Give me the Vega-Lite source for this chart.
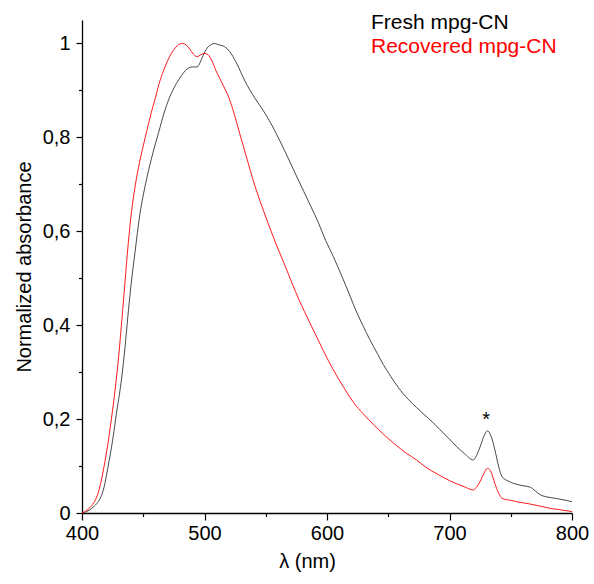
{
  "$schema": "https://vega.github.io/schema/vega-lite/v6.json",
  "autosize": "none",
  "width": 490,
  "height": 493,
  "padding": {"left": 82, "top": 20, "right": 22, "bottom": 71},
  "background": "white",
  "config": {
    "view": {"stroke": null},
    "font": "Liberation Sans",
    "axis": {"grid": false, "domainColor": "black", "tickColor": "black", "labelColor": "black", "titleColor": "black", "labelFont": "Liberation Sans", "titleFont": "Liberation Sans", "titleFontWeight": "normal", "domainWidth": 1.3, "tickWidth": 1.2}
  },
  "datasets": {
    "spectra": [
      {"wl": 400, "a": 0, "s": "Fresh mpg-CN"},
      {"wl": 404, "a": 0.003, "s": "Fresh mpg-CN"},
      {"wl": 408, "a": 0.01, "s": "Fresh mpg-CN"},
      {"wl": 412, "a": 0.02, "s": "Fresh mpg-CN"},
      {"wl": 415, "a": 0.032, "s": "Fresh mpg-CN"},
      {"wl": 418, "a": 0.055, "s": "Fresh mpg-CN"},
      {"wl": 421, "a": 0.095, "s": "Fresh mpg-CN"},
      {"wl": 425, "a": 0.155, "s": "Fresh mpg-CN"},
      {"wl": 428, "a": 0.21, "s": "Fresh mpg-CN"},
      {"wl": 432, "a": 0.28, "s": "Fresh mpg-CN"},
      {"wl": 435, "a": 0.35, "s": "Fresh mpg-CN"},
      {"wl": 437.3, "a": 0.415, "s": "Fresh mpg-CN"},
      {"wl": 440, "a": 0.485, "s": "Fresh mpg-CN"},
      {"wl": 443.5, "a": 0.56, "s": "Fresh mpg-CN"},
      {"wl": 447, "a": 0.632, "s": "Fresh mpg-CN"},
      {"wl": 451, "a": 0.69, "s": "Fresh mpg-CN"},
      {"wl": 455, "a": 0.737, "s": "Fresh mpg-CN"},
      {"wl": 458, "a": 0.768, "s": "Fresh mpg-CN"},
      {"wl": 462.5, "a": 0.81, "s": "Fresh mpg-CN"},
      {"wl": 467, "a": 0.852, "s": "Fresh mpg-CN"},
      {"wl": 471, "a": 0.882, "s": "Fresh mpg-CN"},
      {"wl": 475, "a": 0.905, "s": "Fresh mpg-CN"},
      {"wl": 479, "a": 0.923, "s": "Fresh mpg-CN"},
      {"wl": 483, "a": 0.938, "s": "Fresh mpg-CN"},
      {"wl": 486, "a": 0.946, "s": "Fresh mpg-CN"},
      {"wl": 490, "a": 0.95, "s": "Fresh mpg-CN"},
      {"wl": 494, "a": 0.95, "s": "Fresh mpg-CN"},
      {"wl": 496.5, "a": 0.96, "s": "Fresh mpg-CN"},
      {"wl": 499, "a": 0.975, "s": "Fresh mpg-CN"},
      {"wl": 502, "a": 0.99, "s": "Fresh mpg-CN"},
      {"wl": 505, "a": 0.997, "s": "Fresh mpg-CN"},
      {"wl": 508, "a": 1.0, "s": "Fresh mpg-CN"},
      {"wl": 512, "a": 0.997, "s": "Fresh mpg-CN"},
      {"wl": 516.5, "a": 0.993, "s": "Fresh mpg-CN"},
      {"wl": 520.5, "a": 0.983, "s": "Fresh mpg-CN"},
      {"wl": 526, "a": 0.959, "s": "Fresh mpg-CN"},
      {"wl": 533, "a": 0.92, "s": "Fresh mpg-CN"},
      {"wl": 541, "a": 0.884, "s": "Fresh mpg-CN"},
      {"wl": 546.5, "a": 0.863, "s": "Fresh mpg-CN"},
      {"wl": 555, "a": 0.826, "s": "Fresh mpg-CN"},
      {"wl": 562, "a": 0.79, "s": "Fresh mpg-CN"},
      {"wl": 569, "a": 0.752, "s": "Fresh mpg-CN"},
      {"wl": 575, "a": 0.718, "s": "Fresh mpg-CN"},
      {"wl": 581, "a": 0.685, "s": "Fresh mpg-CN"},
      {"wl": 587, "a": 0.652, "s": "Fresh mpg-CN"},
      {"wl": 593, "a": 0.618, "s": "Fresh mpg-CN"},
      {"wl": 599, "a": 0.58, "s": "Fresh mpg-CN"},
      {"wl": 605, "a": 0.547, "s": "Fresh mpg-CN"},
      {"wl": 612, "a": 0.505, "s": "Fresh mpg-CN"},
      {"wl": 619, "a": 0.461, "s": "Fresh mpg-CN"},
      {"wl": 623, "a": 0.435, "s": "Fresh mpg-CN"},
      {"wl": 629, "a": 0.401, "s": "Fresh mpg-CN"},
      {"wl": 635, "a": 0.369, "s": "Fresh mpg-CN"},
      {"wl": 641, "a": 0.34, "s": "Fresh mpg-CN"},
      {"wl": 646, "a": 0.316, "s": "Fresh mpg-CN"},
      {"wl": 652, "a": 0.291, "s": "Fresh mpg-CN"},
      {"wl": 658, "a": 0.268, "s": "Fresh mpg-CN"},
      {"wl": 666, "a": 0.243, "s": "Fresh mpg-CN"},
      {"wl": 673, "a": 0.225, "s": "Fresh mpg-CN"},
      {"wl": 680, "a": 0.208, "s": "Fresh mpg-CN"},
      {"wl": 686, "a": 0.194, "s": "Fresh mpg-CN"},
      {"wl": 692, "a": 0.178, "s": "Fresh mpg-CN"},
      {"wl": 699, "a": 0.16, "s": "Fresh mpg-CN"},
      {"wl": 706, "a": 0.141, "s": "Fresh mpg-CN"},
      {"wl": 712, "a": 0.127, "s": "Fresh mpg-CN"},
      {"wl": 719.5, "a": 0.113, "s": "Fresh mpg-CN"},
      {"wl": 722, "a": 0.122, "s": "Fresh mpg-CN"},
      {"wl": 725, "a": 0.141, "s": "Fresh mpg-CN"},
      {"wl": 728, "a": 0.163, "s": "Fresh mpg-CN"},
      {"wl": 731, "a": 0.175, "s": "Fresh mpg-CN"},
      {"wl": 734, "a": 0.163, "s": "Fresh mpg-CN"},
      {"wl": 737, "a": 0.135, "s": "Fresh mpg-CN"},
      {"wl": 740, "a": 0.1, "s": "Fresh mpg-CN"},
      {"wl": 743, "a": 0.077, "s": "Fresh mpg-CN"},
      {"wl": 748, "a": 0.068, "s": "Fresh mpg-CN"},
      {"wl": 755, "a": 0.061, "s": "Fresh mpg-CN"},
      {"wl": 760, "a": 0.058, "s": "Fresh mpg-CN"},
      {"wl": 766, "a": 0.055, "s": "Fresh mpg-CN"},
      {"wl": 770, "a": 0.047, "s": "Fresh mpg-CN"},
      {"wl": 774, "a": 0.039, "s": "Fresh mpg-CN"},
      {"wl": 780, "a": 0.034, "s": "Fresh mpg-CN"},
      {"wl": 787, "a": 0.031, "s": "Fresh mpg-CN"},
      {"wl": 795, "a": 0.027, "s": "Fresh mpg-CN"},
      {"wl": 800, "a": 0.024, "s": "Fresh mpg-CN"},
      {"wl": 400, "a": 0, "s": "Recovered mpg-CN"},
      {"wl": 404, "a": 0.006, "s": "Recovered mpg-CN"},
      {"wl": 408, "a": 0.016, "s": "Recovered mpg-CN"},
      {"wl": 411, "a": 0.028, "s": "Recovered mpg-CN"},
      {"wl": 414, "a": 0.05, "s": "Recovered mpg-CN"},
      {"wl": 418, "a": 0.099, "s": "Recovered mpg-CN"},
      {"wl": 421, "a": 0.145, "s": "Recovered mpg-CN"},
      {"wl": 424, "a": 0.2, "s": "Recovered mpg-CN"},
      {"wl": 427, "a": 0.262, "s": "Recovered mpg-CN"},
      {"wl": 430, "a": 0.335, "s": "Recovered mpg-CN"},
      {"wl": 432, "a": 0.395, "s": "Recovered mpg-CN"},
      {"wl": 434.5, "a": 0.472, "s": "Recovered mpg-CN"},
      {"wl": 437, "a": 0.552, "s": "Recovered mpg-CN"},
      {"wl": 440, "a": 0.632, "s": "Recovered mpg-CN"},
      {"wl": 443.5, "a": 0.698, "s": "Recovered mpg-CN"},
      {"wl": 447, "a": 0.747, "s": "Recovered mpg-CN"},
      {"wl": 450, "a": 0.782, "s": "Recovered mpg-CN"},
      {"wl": 453, "a": 0.815, "s": "Recovered mpg-CN"},
      {"wl": 456.5, "a": 0.852, "s": "Recovered mpg-CN"},
      {"wl": 460, "a": 0.885, "s": "Recovered mpg-CN"},
      {"wl": 463, "a": 0.915, "s": "Recovered mpg-CN"},
      {"wl": 466.7, "a": 0.943, "s": "Recovered mpg-CN"},
      {"wl": 470, "a": 0.964, "s": "Recovered mpg-CN"},
      {"wl": 473, "a": 0.979, "s": "Recovered mpg-CN"},
      {"wl": 476, "a": 0.99, "s": "Recovered mpg-CN"},
      {"wl": 479, "a": 0.998, "s": "Recovered mpg-CN"},
      {"wl": 482, "a": 1.0, "s": "Recovered mpg-CN"},
      {"wl": 485, "a": 0.997, "s": "Recovered mpg-CN"},
      {"wl": 488, "a": 0.988, "s": "Recovered mpg-CN"},
      {"wl": 491, "a": 0.977, "s": "Recovered mpg-CN"},
      {"wl": 494, "a": 0.972, "s": "Recovered mpg-CN"},
      {"wl": 497, "a": 0.976, "s": "Recovered mpg-CN"},
      {"wl": 500, "a": 0.979, "s": "Recovered mpg-CN"},
      {"wl": 503, "a": 0.976, "s": "Recovered mpg-CN"},
      {"wl": 506, "a": 0.963, "s": "Recovered mpg-CN"},
      {"wl": 509.4, "a": 0.942, "s": "Recovered mpg-CN"},
      {"wl": 515.4, "a": 0.91, "s": "Recovered mpg-CN"},
      {"wl": 520.3, "a": 0.882, "s": "Recovered mpg-CN"},
      {"wl": 524, "a": 0.852, "s": "Recovered mpg-CN"},
      {"wl": 529, "a": 0.806, "s": "Recovered mpg-CN"},
      {"wl": 533.5, "a": 0.765, "s": "Recovered mpg-CN"},
      {"wl": 541, "a": 0.698, "s": "Recovered mpg-CN"},
      {"wl": 548, "a": 0.645, "s": "Recovered mpg-CN"},
      {"wl": 556, "a": 0.589, "s": "Recovered mpg-CN"},
      {"wl": 566, "a": 0.525, "s": "Recovered mpg-CN"},
      {"wl": 577, "a": 0.455, "s": "Recovered mpg-CN"},
      {"wl": 586, "a": 0.405, "s": "Recovered mpg-CN"},
      {"wl": 594, "a": 0.362, "s": "Recovered mpg-CN"},
      {"wl": 601, "a": 0.325, "s": "Recovered mpg-CN"},
      {"wl": 608, "a": 0.292, "s": "Recovered mpg-CN"},
      {"wl": 615, "a": 0.262, "s": "Recovered mpg-CN"},
      {"wl": 621.5, "a": 0.236, "s": "Recovered mpg-CN"},
      {"wl": 630, "a": 0.21, "s": "Recovered mpg-CN"},
      {"wl": 638, "a": 0.188, "s": "Recovered mpg-CN"},
      {"wl": 646, "a": 0.168, "s": "Recovered mpg-CN"},
      {"wl": 657, "a": 0.143, "s": "Recovered mpg-CN"},
      {"wl": 665, "a": 0.127, "s": "Recovered mpg-CN"},
      {"wl": 673, "a": 0.113, "s": "Recovered mpg-CN"},
      {"wl": 681, "a": 0.097, "s": "Recovered mpg-CN"},
      {"wl": 690, "a": 0.083, "s": "Recovered mpg-CN"},
      {"wl": 700, "a": 0.069, "s": "Recovered mpg-CN"},
      {"wl": 706, "a": 0.062, "s": "Recovered mpg-CN"},
      {"wl": 712, "a": 0.056, "s": "Recovered mpg-CN"},
      {"wl": 719.5, "a": 0.049, "s": "Recovered mpg-CN"},
      {"wl": 722, "a": 0.055, "s": "Recovered mpg-CN"},
      {"wl": 725, "a": 0.067, "s": "Recovered mpg-CN"},
      {"wl": 728, "a": 0.084, "s": "Recovered mpg-CN"},
      {"wl": 731, "a": 0.095, "s": "Recovered mpg-CN"},
      {"wl": 734, "a": 0.087, "s": "Recovered mpg-CN"},
      {"wl": 737, "a": 0.063, "s": "Recovered mpg-CN"},
      {"wl": 740, "a": 0.043, "s": "Recovered mpg-CN"},
      {"wl": 743, "a": 0.031, "s": "Recovered mpg-CN"},
      {"wl": 750, "a": 0.027, "s": "Recovered mpg-CN"},
      {"wl": 755, "a": 0.024, "s": "Recovered mpg-CN"},
      {"wl": 766, "a": 0.019, "s": "Recovered mpg-CN"},
      {"wl": 775, "a": 0.014, "s": "Recovered mpg-CN"},
      {"wl": 782, "a": 0.01, "s": "Recovered mpg-CN"},
      {"wl": 790, "a": 0.007, "s": "Recovered mpg-CN"},
      {"wl": 800, "a": 0.003, "s": "Recovered mpg-CN"}
    ],
    "marks": [
      {"wl": 730, "a": 0.185, "t": "*"}
    ]
  },
  "layer": [
    {
      "data": {"name": "spectra"},
      "mark": {"type": "line", "strokeWidth": 0.9, "interpolate": "monotone"},
      "encoding": {
        "x": {
          "field": "wl", "type": "quantitative",
          "scale": {"domain": [400, 800], "nice": false, "zero": false},
          "axis": {"orient": "bottom", "values": [400, 500, 600, 700, 800], "title": "λ (nm)", "titleFontSize": 20, "labelFontSize": 20, "tickSize": 7, "labelPadding": 3, "titlePadding": 8, "titleX": 225, "labelFlush": false}
        },
        "y": {
          "field": "a", "type": "quantitative",
          "scale": {"domain": [0, 1.05], "nice": false},
          "axis": {"orient": "left", "values": [0, 0.2, 0.4, 0.6, 0.8, 1], "labelExpr": "datum.value == 0 ? '0' : datum.value == 1 ? '1' : replace(format(datum.value, '.1f'), '.', ',')", "title": "Normalized absorbance", "titleFontSize": 20, "labelFontSize": 20, "tickSize": 6, "labelPadding": 6, "titlePadding": 8}
        },
        "color": {
          "field": "s", "type": "nominal",
          "scale": {"domain": ["Fresh mpg-CN", "Recovered mpg-CN"], "range": ["#333333", "#ff0000"]},
          "legend": {
            "title": null, "orient": "none", "legendX": 268, "legendY": -8,
            "symbolSize": 0, "symbolOpacity": 0, "symbolStrokeWidth": 0, "labelOffset": 0,
            "labelFontSize": 21, "labelFont": "Liberation Sans", "labelLimit": 400, "rowPadding": 2,
            "encode": {"labels": {"update": {"fill": {"signal": "datum.value == 'Fresh mpg-CN' ? 'black' : '#ff0000'"}}}}
          }
        }
      }
    },
    {
      "data": {"name": "marks"},
      "mark": {"type": "text", "fontSize": 20, "font": "Liberation Sans", "baseline": "alphabetic", "align": "center", "color": "black"},
      "encoding": {
        "x": {"field": "wl", "type": "quantitative", "axis": {"orient": "bottom", "values": [450, 550, 650, 750], "labels": false, "domain": false, "title": null, "tickSize": 3.5}},
        "y": {"field": "a", "type": "quantitative", "axis": {"orient": "left", "values": [0.1, 0.3, 0.5, 0.7, 0.9], "labels": false, "domain": false, "title": null, "tickSize": 3.5}},
        "text": {"field": "t", "type": "nominal"}
      }
    }
  ],
  "resolve": {"axis": {"x": "independent", "y": "independent"}}
}
